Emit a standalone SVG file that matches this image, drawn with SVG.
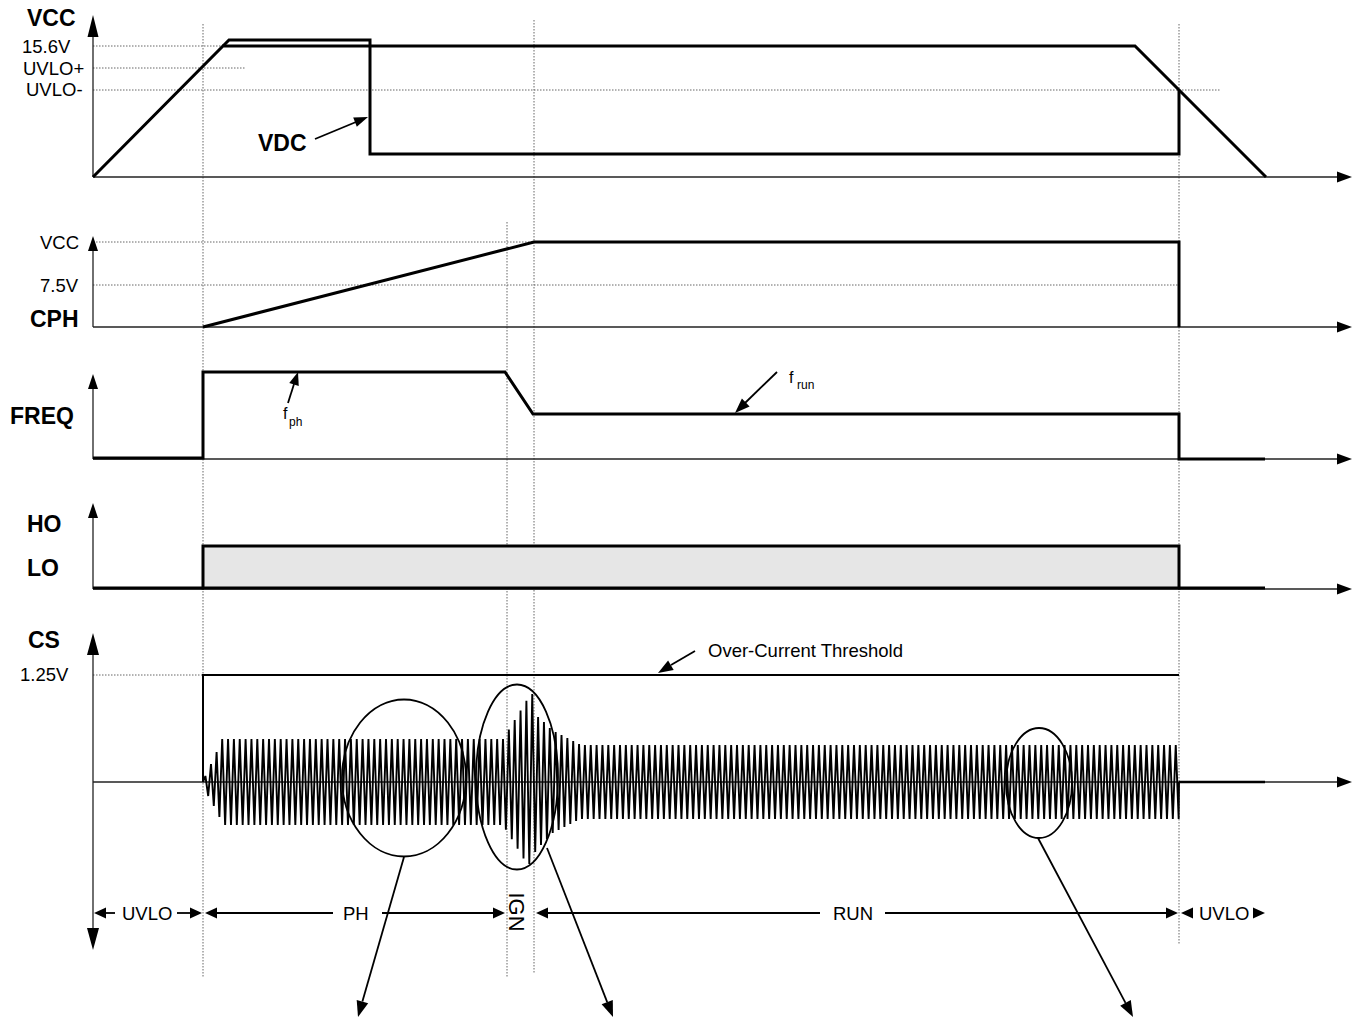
<svg xmlns="http://www.w3.org/2000/svg" width="1358" height="1017" viewBox="0 0 1358 1017">
<style>
text{font-family:"Liberation Sans",Arial,sans-serif;fill:#000}
.b{font-weight:bold;font-size:23px}
.s{font-size:18.5px}
.ax{stroke:#222;stroke-width:1.3;fill:none}
.dot{stroke:#666;stroke-width:1;stroke-dasharray:1.5,1.5;fill:none}
.w{stroke:#000;stroke-width:3;fill:none;stroke-linejoin:miter}
.thin{stroke:#000;stroke-width:1.8;fill:none}
.ah{fill:#000;stroke:none}
</style>
<rect width="1358" height="1017" fill="#fff"/>
<g id="gridlines">
<line class="dot" x1="203" y1="24" x2="203" y2="977"/>
<line class="dot" x1="507" y1="222" x2="507" y2="978"/>
<line class="dot" x1="534" y1="20" x2="534" y2="973"/>
<line class="dot" x1="1179" y1="24" x2="1179" y2="945"/>
<line class="dot" x1="93" y1="46" x2="223" y2="46"/>
<line class="dot" x1="93" y1="68" x2="245" y2="68"/>
<line class="dot" x1="93" y1="90" x2="1221" y2="90"/>
<line class="dot" x1="93" y1="242" x2="534" y2="242"/>
<line class="dot" x1="93" y1="285" x2="1179" y2="285"/>
<line class="dot" x1="93" y1="675" x2="203" y2="675"/>
</g>
<g id="axes">
<line class="ax" x1="93" y1="35" x2="93" y2="177"/>
<polygon class="ah" points="93,15 87.5,37 98.5,37"/>
<line class="ax" x1="93" y1="177" x2="1340" y2="177"/>
<polygon class="ah" points="1352,177 1337,171.5 1337,182.5"/>
<line class="ax" x1="93" y1="248" x2="93" y2="327"/>
<polygon class="ah" points="93,236 88,251 98,251"/>
<line class="ax" x1="93" y1="327" x2="1340" y2="327"/>
<polygon class="ah" points="1352,327 1337,321.5 1337,332.5"/>
<line class="ax" x1="93" y1="386" x2="93" y2="459"/>
<polygon class="ah" points="93,374 88,389 98,389"/>
<line class="ax" x1="93" y1="459" x2="1340" y2="459"/>
<polygon class="ah" points="1352,459 1337,453.5 1337,464.5"/>
<line class="ax" x1="93" y1="515" x2="93" y2="589"/>
<polygon class="ah" points="93,503 88,518 98,518"/>
<line class="ax" x1="93" y1="589" x2="1340" y2="589"/>
<polygon class="ah" points="1352,589 1337,583.5 1337,594.5"/>
<line class="ax" x1="93" y1="652" x2="93" y2="930"/>
<polygon class="ah" points="93,633 87,655 99,655"/>
<polygon class="ah" points="93,950 87,928 99,928"/>
<line class="ax" x1="93" y1="782" x2="1340" y2="782"/>
<polygon class="ah" points="1352,782 1337,776.5 1337,787.5"/>
</g>
<g id="labels">
<text class="b" x="27" y="26">VCC</text>
<text class="s" x="22" y="53">15.6V</text>
<text class="s" x="23" y="75">UVLO+</text>
<text class="s" x="26" y="96">UVLO-</text>
<text class="s" x="40" y="249">VCC</text>
<text class="s" x="40" y="292">7.5V</text>
<text class="b" x="30" y="327">CPH</text>
<text class="b" x="10" y="424">FREQ</text>
<text class="b" x="27" y="532">HO</text>
<text class="b" x="27" y="576">LO</text>
<text class="b" x="28" y="648">CS</text>
<text class="s" x="20" y="681">1.25V</text>
</g>
<g id="vcc">
<polyline class="w" points="93,177 223,46 1135,46 1266,177"/>
</g>
<g id="vdc">
<polyline class="w" points="223,46 229,40 370,40 370,154 1179,154 1179,90"/>
<text class="b" x="258" y="151">VDC</text>
<line class="thin" x1="315" y1="139" x2="356" y2="122"/>
<polygon class="ah" points="368,117 356.8,126.8 353.2,117.5"/>
</g>
<g id="cph">
<polyline class="w" points="203,327 534,242 1179,242 1179,327"/>
</g>
<g id="freq">
<polyline class="w" points="93,458 203,458 203,372 505,372 533,414 1179,414 1179,459 1265,459"/>
<line class="thin" x1="288" y1="403" x2="294" y2="384"/>
<polygon class="ah" points="298,372 298.75,385.9 289.25,382.9"/>
<text x="283" y="419" font-size="16">f</text>
<text x="289" y="426" font-size="12">ph</text>
<line class="thin" x1="777" y1="372" x2="745" y2="403"/>
<polygon class="ah" points="735,413 749.6,406.4 741.9,398.6"/>
<text x="789" y="383" font-size="16">f</text>
<text x="797" y="389" font-size="12">run</text>
</g>
<g id="holo">
<line class="w" x1="93" y1="588" x2="204" y2="588"/>
<rect x="203" y="546" width="976" height="42" fill="#e6e6e6" stroke="#000" stroke-width="3"/>
<line class="w" x1="1178" y1="588" x2="1265" y2="588"/>
</g>
<g id="cs">
<polyline points="203,782 203,675 1179,675" fill="none" stroke="#000" stroke-width="2"/>
<line x1="1179" y1="782" x2="1265" y2="782" stroke="#000" stroke-width="2.5"/>
<line class="thin" x1="695" y1="651" x2="671" y2="665"/>
<polygon class="ah" points="658,673 673.7,670 668.1,660.6"/>
<text x="708" y="657" font-size="18.5">Over-Current Threshold</text>
<path fill="none" stroke="#000" stroke-width="1.9" stroke-linejoin="bevel" d="M203,782 L205.4,776 208.2,796 211,764 213.8,806 216.6,752 219.4,817 222.2,739 l2.925,86 2.925,-86 2.925,86 2.925,-86 2.925,86 2.925,-86 2.925,86 2.925,-86 2.925,86 2.925,-86 2.925,86 2.925,-86 2.925,86 2.925,-86 2.925,86 2.925,-86
2.925,86 2.925,-86 2.925,86 2.925,-86 2.925,86 2.925,-86 2.925,86 2.925,-86 2.925,86 2.925,-86 2.925,86 2.925,-86 2.925,86 2.925,-86 2.925,86 2.925,-86
2.925,86 2.925,-86 2.925,86 2.925,-86 2.925,86 2.925,-86 2.925,86 2.925,-86 2.925,86 2.925,-86 2.925,86 2.925,-86 2.925,86 2.925,-86 2.925,86 2.925,-86
2.925,86 2.925,-86 2.925,86 2.925,-86 2.925,86 2.925,-86 2.925,86 2.925,-86 2.925,86 2.925,-86 2.925,86 2.925,-86 2.925,86 2.925,-86 2.925,86 2.925,-86
2.925,86 2.925,-86 2.925,86 2.925,-86 2.925,86 2.925,-86 2.925,86 2.925,-86 2.925,86 2.925,-86 2.925,86 2.925,-86 2.925,86 2.925,-86 2.925,86 2.925,-86
2.925,86 2.925,-86 2.925,86 2.925,-86 2.925,86 2.925,-86 2.925,86 2.925,-86 2.925,86 2.925,-86 2.925,86 2.925,-86 2.925,86 2.925,-86 2.925,86 2.925,-86
L505.9,829.7 508.85,729.5 511.8,839.3 514.7,719.9 517.6,848.8 520.55,710.4 523.5,858.4 526.4,700.8 529.3,864 532.25,694 535.2,852 538.1,717 541,845 543.95,722 546.9,839 549.8,728 552.7,833 555.65,732 558.6,830 561.5,735 564.4,827 567.35,738 570.3,824 573.2,741 576.1,821 579.05,744 582,819 584.9,745
l2.925,74 2.925,-74 2.925,74 2.925,-74 2.925,74 2.925,-74 2.925,74 2.925,-74 2.925,74 2.925,-74 2.925,74 2.925,-74 2.925,74 2.925,-74 2.925,74 2.925,-74
2.925,74 2.925,-74 2.925,74 2.925,-74 2.925,74 2.925,-74 2.925,74 2.925,-74 2.925,74 2.925,-74 2.925,74 2.925,-74 2.925,74 2.925,-74 2.925,74 2.925,-74
2.925,74 2.925,-74 2.925,74 2.925,-74 2.925,74 2.925,-74 2.925,74 2.925,-74 2.925,74 2.925,-74 2.925,74 2.925,-74 2.925,74 2.925,-74 2.925,74 2.925,-74
2.925,74 2.925,-74 2.925,74 2.925,-74 2.925,74 2.925,-74 2.925,74 2.925,-74 2.925,74 2.925,-74 2.925,74 2.925,-74 2.925,74 2.925,-74 2.925,74 2.925,-74
2.925,74 2.925,-74 2.925,74 2.925,-74 2.925,74 2.925,-74 2.925,74 2.925,-74 2.925,74 2.925,-74 2.925,74 2.925,-74 2.925,74 2.925,-74 2.925,74 2.925,-74
2.925,74 2.925,-74 2.925,74 2.925,-74 2.925,74 2.925,-74 2.925,74 2.925,-74 2.925,74 2.925,-74 2.925,74 2.925,-74 2.925,74 2.925,-74 2.925,74 2.925,-74
2.925,74 2.925,-74 2.925,74 2.925,-74 2.925,74 2.925,-74 2.925,74 2.925,-74 2.925,74 2.925,-74 2.925,74 2.925,-74 2.925,74 2.925,-74 2.925,74 2.925,-74
2.925,74 2.925,-74 2.925,74 2.925,-74 2.925,74 2.925,-74 2.925,74 2.925,-74 2.925,74 2.925,-74 2.925,74 2.925,-74 2.925,74 2.925,-74 2.925,74 2.925,-74
2.925,74 2.925,-74 2.925,74 2.925,-74 2.925,74 2.925,-74 2.925,74 2.925,-74 2.925,74 2.925,-74 2.925,74 2.925,-74 2.925,74 2.925,-74 2.925,74 2.925,-74
2.925,74 2.925,-74 2.925,74 2.925,-74 2.925,74 2.925,-74 2.925,74 2.925,-74 2.925,74 2.925,-74 2.925,74 2.925,-74 2.925,74 2.925,-74 2.925,74 2.925,-74
2.925,74 2.925,-74 2.925,74 2.925,-74 2.925,74 2.925,-74 2.925,74 2.925,-74 2.925,74 2.925,-74 2.925,74 2.925,-74 2.925,74 2.925,-74 2.925,74 2.925,-74
2.925,74 2.925,-74 2.925,74 2.925,-74 2.925,74 2.925,-74 2.925,74 2.925,-74 2.925,74 2.925,-74 2.925,74 2.925,-74 2.925,74 2.925,-74 2.925,74 2.925,-74
2.925,74 2.925,-74 2.925,74 2.925,-74 2.925,74 2.925,-74 2.925,74 2.925,-74 2.925,74 2.925,-74
2.925,74 L1179,782"/>
</g>
<g id="ellipses">
<ellipse cx="404" cy="778" rx="62" ry="78.5" fill="none" stroke="#000" stroke-width="1.8"/>
<ellipse cx="517" cy="777" rx="41" ry="92.5" fill="none" stroke="#000" stroke-width="1.8"/>
<ellipse cx="1039" cy="783" rx="33" ry="55" fill="none" stroke="#000" stroke-width="1.8"/>
</g>
<g id="connectors">
<line class="thin" x1="404" y1="857" x2="362.4" y2="1001.6"/>
<polygon class="ah" points="358,1017 368.2,1003.3 356.7,999.9"/>
<line class="thin" x1="547" y1="848" x2="607.2" y2="1002.1"/>
<polygon class="ah" points="613,1017 612.8,999.9 601.6,1004.3"/>
<line class="thin" x1="1038" y1="838" x2="1125.5" y2="1002.9"/>
<polygon class="ah" points="1133,1017 1130.8,1000.1 1120.2,1005.7"/>
</g>
<g id="phases">
<polygon class="ah" points="94,913 106,907.5 106,918.5"/>
<line class="thin" x1="105" y1="913" x2="115" y2="913"/>
<text class="s" x="122" y="919.5">UVLO</text>
<line class="thin" x1="177" y1="913" x2="191" y2="913"/>
<polygon class="ah" points="202,913 190,907.5 190,918.5"/>
<polygon class="ah" points="205,913 217,907.5 217,918.5"/>
<line class="thin" x1="216" y1="913" x2="333" y2="913"/>
<text class="s" x="343" y="919.5">PH</text>
<line class="thin" x1="382" y1="913" x2="494" y2="913"/>
<polygon class="ah" points="505,913 493,907.5 493,918.5"/>
<text x="509" y="912" font-size="22" text-anchor="middle" transform="rotate(90 509 912)">IGN</text>
<polygon class="ah" points="536,913 548,907.5 548,918.5"/>
<line class="thin" x1="547" y1="913" x2="820" y2="913"/>
<text class="s" x="833" y="919.5">RUN</text>
<line class="thin" x1="885" y1="913" x2="1167" y2="913"/>
<polygon class="ah" points="1178,913 1166,907.5 1166,918.5"/>
<polygon class="ah" points="1181,913 1193,907.5 1193,918.5"/>
<text class="s" x="1199" y="919.5">UVLO</text>
<polygon class="ah" points="1265,913 1253,907.5 1253,918.5"/>
</g>
</svg>
